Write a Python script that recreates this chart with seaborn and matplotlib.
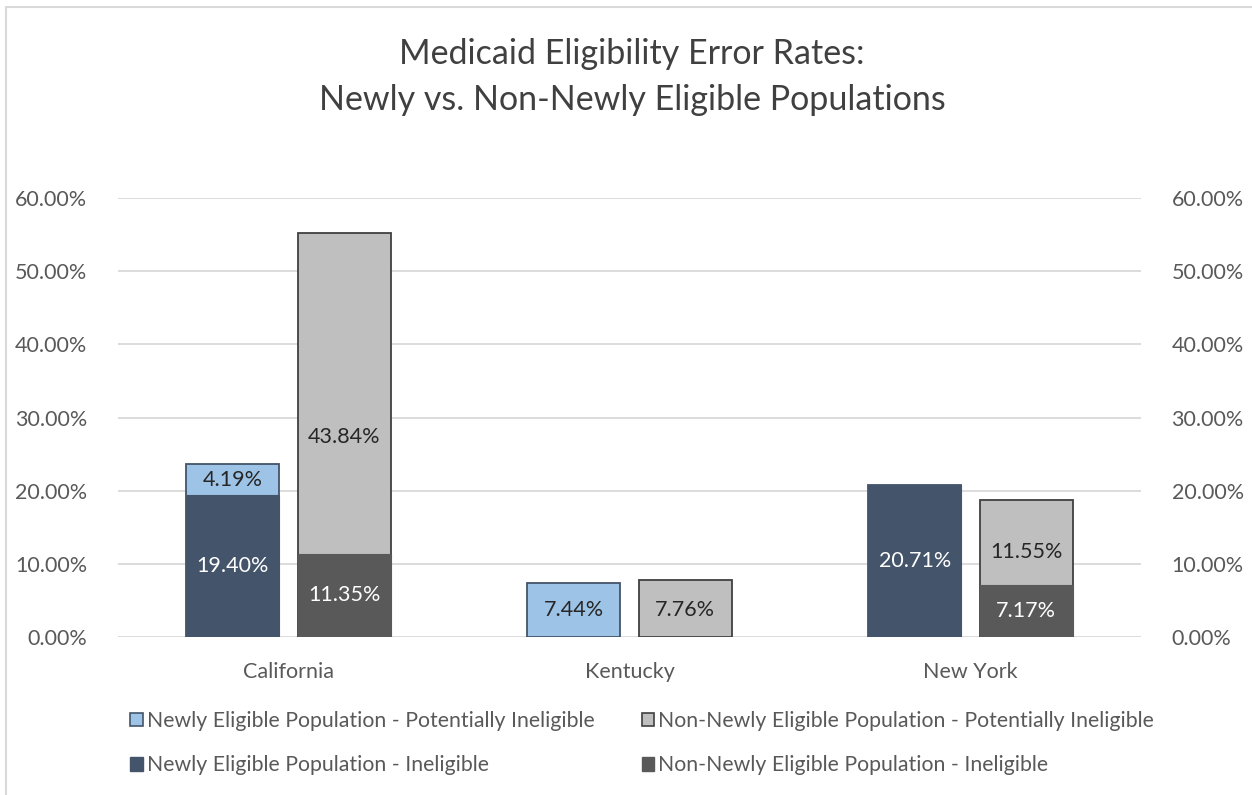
import matplotlib
matplotlib.use("Agg")
import matplotlib.pyplot as plt
from matplotlib.patches import Patch
from matplotlib.lines import Line2D
from matplotlib.ticker import FuncFormatter, MultipleLocator
import seaborn as sns
import pandas as pd

# ---- data ----
states = ["California", "Kentucky", "New York"]
populations = ["Newly Eligible Population", "Non-Newly Eligible Population"]
newly_ineligible = [19.40, 0.0, 20.71]
newly_potential = [4.19, 7.44, 0.0]
non_newly_ineligible = [11.35, 0.0, 7.17]
non_newly_potential = [43.84, 7.76, 11.55]
title_lines = ["Medicaid Eligibility Error Rates:", "Newly vs. Non-Newly Eligible Populations"]

# vertical placement of the "potentially ineligible" labels inside their segment (style)
label_frac = {populations[0]: [0.5, 0.5, 0.5], populations[1]: [0.364, 0.47, 0.39]}

rows = []
for i, s in enumerate(states):
    rows.append(dict(State=s, Population=populations[0], Ineligible=newly_ineligible[i],
                     Potential=newly_potential[i]))
    rows.append(dict(State=s, Population=populations[1], Ineligible=non_newly_ineligible[i],
                     Potential=non_newly_potential[i]))
df = pd.DataFrame(rows)
df["Total"] = df["Ineligible"] + df["Potential"]

# ---- style ----
sns.set_theme(style="white")
FONT = ["Lato", "DejaVu Sans"]
plt.rcParams["font.family"] = FONT
TXT = "#595959"
FS = 15.5

c_light = {"Newly Eligible Population": "#9DC3E6", "Non-Newly Eligible Population": "#BFBFBF"}
c_dark = {"Newly Eligible Population": "#44546A", "Non-Newly Eligible Population": "#595959"}
c_edge = {"Newly Eligible Population": "#44546A", "Non-Newly Eligible Population": "#404040"}

fig = plt.figure(figsize=(12.52, 7.95), dpi=100)
ax = fig.add_axes([118 / 1252, 1 - 637 / 795, (1141 - 118) / 1252, (637 - 198) / 795])

W, G = 0.652, 0.163
sns.barplot(data=df, x="State", y="Total", hue="Population", order=states, hue_order=populations,
            palette=c_light, width=W, gap=G, ax=ax, legend=False, zorder=2, saturation=1)
sns.barplot(data=df, x="State", y="Ineligible", hue="Population", order=states, hue_order=populations,
            palette=c_dark, width=W, gap=G, ax=ax, legend=False, zorder=3, saturation=1)

tot_cont, inel_cont = ax.containers[0:2], ax.containers[2:4]
for hi, pop in enumerate(populations):
    sub = df[df.Population == pop].set_index("State").loc[states]
    for j, (pt, pi) in enumerate(zip(tot_cont[hi], inel_cont[hi])):
        pt.set_edgecolor(c_edge[pop]); pt.set_linewidth(1.3)
        pi.set_edgecolor(c_dark[pop]); pi.set_linewidth(0.8 if sub["Ineligible"].iloc[j] > 0 else 0)
        xc = pt.get_x() + pt.get_width() / 2
        inel = sub["Ineligible"].iloc[j]
        pot = sub["Potential"].iloc[j]
        if inel > 0:
            ax.text(xc, inel / 2, f"{inel:.2f}%", ha="center", va="center", color="white",
                    fontsize=FS, zorder=5)
        if pot > 0:
            ax.text(xc, inel + pot * label_frac[pop][j], f"{pot:.2f}%", ha="center", va="center",
                    color="#262626", fontsize=FS, zorder=5)

ax.set_ylim(0, 60)
ax.set_xlim(-0.5, 2.5)
ax.yaxis.set_major_locator(MultipleLocator(10))
ax.yaxis.set_major_formatter(FuncFormatter(lambda v, p: f"{v:.2f}%"))
ax.grid(axis="y", color="#D9D9D9", linewidth=1.3, zorder=0)
ax.set_axisbelow(True)
for sp in ax.spines.values():
    sp.set_visible(False)
ax.tick_params(axis="y", left=False, right=False, labelleft=True, labelright=True,
               labelsize=FS, labelcolor=TXT, pad=16)
ax.tick_params(axis="x", bottom=False, labelsize=FS, labelcolor=TXT, pad=12)
ax.set_xlabel(""); ax.set_ylabel("")

fig.text(632 / 1252, 1 - 54 / 795, title_lines[0], ha="center", va="center", fontsize=24.5, color="#404040")
fig.text(632 / 1252, 1 - 100 / 795, title_lines[1], ha="center", va="center", fontsize=24.5, color="#404040")

handles = [
    Patch(facecolor=c_light[populations[0]], edgecolor=c_edge[populations[0]], linewidth=1.2),
    Patch(facecolor=c_dark[populations[0]], edgecolor=c_dark[populations[0]]),
    Patch(facecolor=c_light[populations[1]], edgecolor=c_edge[populations[1]], linewidth=1.2),
    Patch(facecolor=c_dark[populations[1]], edgecolor=c_dark[populations[1]]),
]
labels = [
    "Newly Eligible Population - Potentially Ineligible",
    "Newly Eligible Population - Ineligible",
    "Non-Newly Eligible Population - Potentially Ineligible",
    "Non-Newly Eligible Population - Ineligible",
]
leg = fig.legend(handles, labels, ncol=2, loc="upper left", bbox_to_anchor=(130 / 1252, 1 - 711 / 795),
                 frameon=False, fontsize=15.3, handlelength=0.6, handleheight=0.6, handletextpad=0.2,
                 columnspacing=2.2, labelspacing=1.15, borderaxespad=0, borderpad=0)
for t in leg.get_texts():
    t.set_color(TXT)

# chart frame (partially cropped)
fx, fy = 6 / 1252, 1 - 7 / 795
fig.add_artist(Line2D([fx, fx], [0, fy], transform=fig.transFigure, color="#D9D9D9", linewidth=1.5))
fig.add_artist(Line2D([fx, 1], [fy, fy], transform=fig.transFigure, color="#D9D9D9", linewidth=1.5))

fig.savefig("out.png", dpi=100, facecolor="white")
